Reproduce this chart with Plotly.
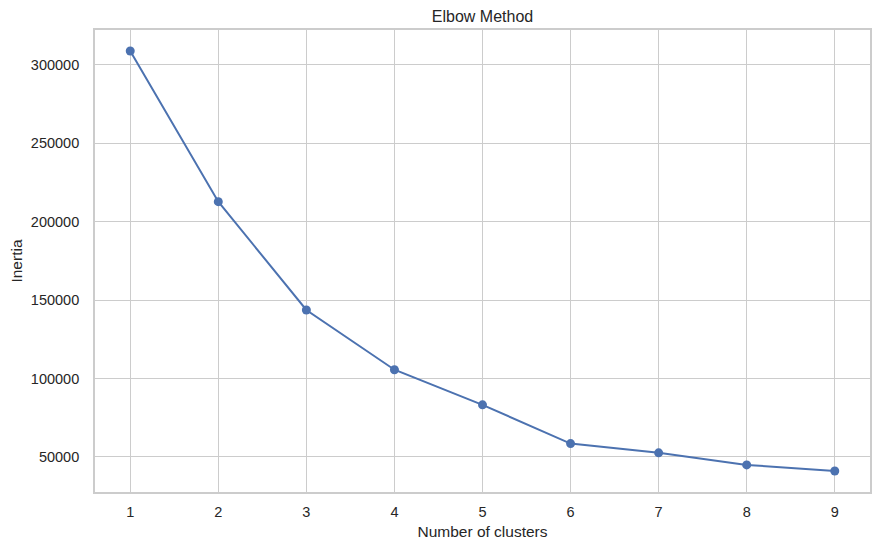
import plotly.graph_objects as go

# elbow curve
clusters = [1, 2, 3, 4, 5, 6, 7, 8, 9]
inertia = [308900, 212800, 143700, 105600, 83200, 58500, 52600, 44900, 41000]

y_ticks = [50000, 100000, 150000, 200000, 250000, 300000]

BLUE = "#4c72b0"
GRID = "#cccccc"
TEXT = "#262626"
FONT = "Liberation Sans, Arial, sans-serif"

fig = go.Figure()
fig.add_trace(go.Scatter(
    x=clusters, y=inertia, mode="lines+markers",
    line=dict(color=BLUE, width=2),
    marker=dict(color=BLUE, size=9),
    showlegend=False,
))

# matplotlib style 5% padding around the data
ypad = (max(inertia) - min(inertia)) * 0.05
xpad = (max(clusters) - min(clusters)) * 0.05

axis_common = dict(
    showgrid=True, gridcolor=GRID, gridwidth=1.3,
    showline=True, linecolor=GRID, linewidth=1.7, mirror=True,
    zeroline=False, ticks="", automargin=False,
    tickfont=dict(family=FONT, size=14.5, color=TEXT),
)

fig.update_xaxes(
    range=[min(clusters) - xpad, max(clusters) + xpad],
    tickvals=clusters, ticklabelstandoff=6,
    title=dict(text="Number of clusters", font=dict(family=FONT, size=15.5, color=TEXT), standoff=7),
    **axis_common,
)
fig.update_yaxes(
    range=[min(inertia) - ypad, max(inertia) + ypad],
    tickvals=y_ticks, tickformat="d", ticklabelstandoff=11,
    title=dict(text="Inertia", font=dict(family=FONT, size=15.5, color=TEXT), standoff=4),
    **axis_common,
)

fig.update_layout(
    width=879, height=550,
    margin=dict(l=95, r=9, t=30, b=58),
    paper_bgcolor="white", plot_bgcolor="white",
    title=dict(text="Elbow Method", x=0.5, xref="paper", xanchor="center",
               y=1 - 16 / 550, yanchor="middle", yref="container",
               font=dict(family=FONT, size=16, color=TEXT)),
)

# drop the browser's default body margin so the figure sits at the page corner
fig.write_html("out.html", config={"displayModeBar": False},
               post_script="document.body.style.margin='0';")
